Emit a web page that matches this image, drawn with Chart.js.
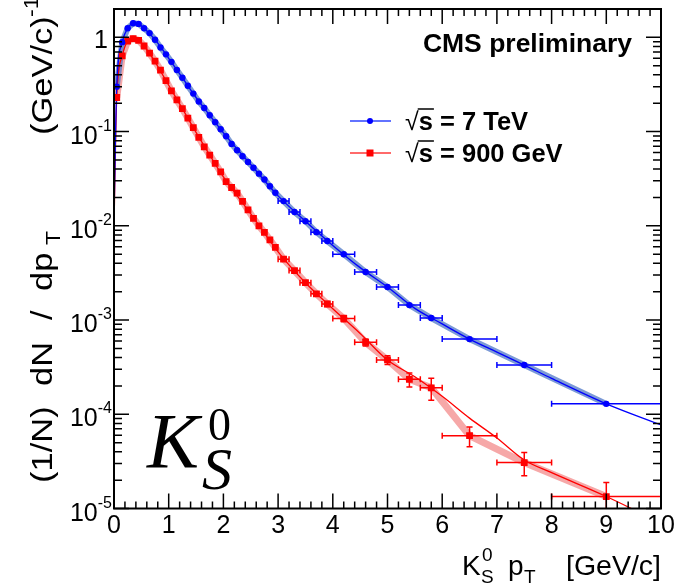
<!DOCTYPE html>
<html>
<head>
<meta charset="utf-8">
<script src="https://cdn.jsdelivr.net/npm/chart.js@4.4.1/dist/chart.umd.min.js"></script>
<style>
  html, body { margin: 0; padding: 0; background: #fff; }
  #wrap { width: 676px; height: 586px; }
</style>
</head>
<body>
<div id="wrap"><canvas id="ptChart"></canvas></div>
<script>
// bin centres and half widths (GeV/c)
const ptBins = [0.05, 0.15, 0.25, 0.35, 0.45, 0.55, 0.65, 0.75, 0.85, 0.95,
                1.05, 1.15, 1.25, 1.35, 1.45, 1.55, 1.65, 1.75, 1.85, 1.95,
                2.05, 2.15, 2.25, 2.35, 2.45, 2.55, 2.65, 2.75, 2.85, 2.95,
                3.1, 3.3, 3.5, 3.7, 3.9, 4.2, 4.6, 5.0, 5.4, 5.8, 6.5, 7.5, 9.0];
const ptHalfWidth = [0.05, 0.05, 0.05, 0.05, 0.05, 0.05, 0.05, 0.05, 0.05, 0.05,
                     0.05, 0.05, 0.05, 0.05, 0.05, 0.05, 0.05, 0.05, 0.05, 0.05,
                     0.05, 0.05, 0.05, 0.05, 0.05, 0.05, 0.05, 0.05, 0.05, 0.05,
                     0.1, 0.1, 0.1, 0.1, 0.1, 0.2, 0.2, 0.2, 0.2, 0.2, 0.5, 0.5, 1.0];

// sqrt(s) = 7 TeV
const yield7TeV = [0.30, 0.89, 1.25, 1.41, 1.39, 1.25, 1.11, 0.945, 0.78, 0.66,
                   0.55, 0.45, 0.373, 0.307, 0.253, 0.209, 0.178, 0.149, 0.126, 0.106,
                   0.0893, 0.074, 0.0635, 0.0548, 0.0475, 0.0413, 0.0358, 0.031, 0.0263, 0.0224,
                   0.0183, 0.0140, 0.0112, 0.00857, 0.00689, 0.0050, 0.00323, 0.00224, 0.00144, 0.00105,
                   0.000628, 0.000333, 0.000129];
// sqrt(s) = 900 GeV
const yield900GeV = [0.23, 0.636, 0.914, 0.97, 0.93, 0.81, 0.68, 0.56, 0.45, 0.347,
                     0.27, 0.217, 0.175, 0.139, 0.110, 0.087, 0.069, 0.0564, 0.046, 0.0373,
                     0.0295, 0.0255, 0.0222, 0.0182, 0.0148, 0.012, 0.0100, 0.0085, 0.0071, 0.0059,
                     0.00443, 0.00335, 0.00249, 0.0019, 0.00148, 0.00104, 0.00058, 0.000377, 0.000235, 0.000191,
                     0.0000593, 0.0000307, 0.0000134];
const err900GeV = [0, 0, 0, 0, 0, 0, 0, 0, 0, 0,
                   0, 0, 0, 0, 0, 0, 0, 0, 0, 0,
                   0, 0, 0, 0, 0, 0, 0, 0, 0, 0,
                   0.0002, 0.00015, 0.00012, 0.0001, 0.00009, 0.00008, 0.00005, 0.00004, 0.00004, 0.00005,
                   0.000014, 0.0000085, 0.0000055];

// fit curves
const fitPt = [0, 0.05, 0.15, 0.25, 0.35, 0.45, 0.55, 0.75, 1.0, 1.25, 1.5, 1.75, 2.0, 2.5,
               3.0, 3.5, 4.0, 4.5, 5.0, 5.5, 6.0, 6.5, 7.0, 7.5, 8.0, 9.0, 10.0];
const fit7TeV = [0.012, 0.30, 0.89, 1.25, 1.41, 1.39, 1.25, 0.945, 0.60, 0.373, 0.23, 0.149, 0.097, 0.0447,
                 0.0208, 0.0112, 0.0062, 0.0036, 0.00224, 0.00133, 0.00091, 0.000628, 0.000457, 0.000333, 0.00024, 0.000129, 0.000077];
const fit900GeV = [0.010, 0.23, 0.636, 0.914, 0.97, 0.93, 0.81, 0.55, 0.31, 0.175, 0.098, 0.0564, 0.033, 0.0134,
                   0.0053, 0.00249, 0.00132, 0.00072, 0.000377, 0.00025, 0.000155, 0.000091, 0.000056, 0.0000327, 0.000024, 0.0000134, 0.000007];

const xTicks = [0, 1, 2, 3, 4, 5, 6, 7, 8, 9, 10];
const yTickExp = [0, -1, -2, -3, -4, -5];

const BLUE = 'rgb(0,0,255)';
const RED = 'rgb(255,0,0)';
const SANS = '"Liberation Sans", Arial, sans-serif';
const SERIF = '"Liberation Serif", "Times New Roman", serif';

function pts(xs, ys) { return xs.map((x, i) => ({ x: x, y: ys[i] })); }

// draw a run of text pieces: [text, size, dy, weight]
function drawRun(ctx, parts, x, y, align) {
    let w = 0;
    parts.forEach(p => { ctx.font = (p[3] || '') + ' ' + p[1] + 'px ' + SANS; w += ctx.measureText(p[0]).width; });
    let cx = align === 'right' ? x - w : (align === 'center' ? x - w / 2 : x);
    ctx.textAlign = 'left';
    ctx.textBaseline = 'alphabetic';
    parts.forEach(p => {
        ctx.font = (p[3] || '') + ' ' + p[1] + 'px ' + SANS;
        ctx.fillText(p[0], cx, y + (p[2] || 0));
        cx += ctx.measureText(p[0]).width;
    });
}

// pieces placed at fixed offsets: [text, size, offset, dy]; stretch widens glyphs along the run
function drawPlaced(ctx, pieces, y, stretch) {
    ctx.textAlign = 'left';
    ctx.textBaseline = 'alphabetic';
    pieces.forEach(p => {
        ctx.save();
        ctx.translate(p[2], y + (p[3] || 0));
        ctx.scale(stretch || 1, 1);
        ctx.font = p[1] + 'px ' + SANS;
        ctx.fillText(p[0], 0, 0);
        ctx.restore();
    });
}

const rootFrame = {
    id: 'rootFrame',
    afterDatasetsDraw(chart) {
        const { ctx, chartArea: a, scales: { x, y } } = chart;
        // error bars
        ctx.save();
        ctx.beginPath();
        ctx.rect(a.left, a.top, a.right - a.left, a.bottom - a.top);
        ctx.clip();
        ctx.lineWidth = 1.5;
        const series = [[yield7TeV, null, BLUE], [yield900GeV, err900GeV, RED]];
        series.forEach(s => {
            ctx.strokeStyle = s[2];
            ptBins.forEach((pt, i) => {
                const py = y.getPixelForValue(s[0][i]);
                const x1 = x.getPixelForValue(pt - ptHalfWidth[i]);
                const x2 = x.getPixelForValue(pt + ptHalfWidth[i]);
                ctx.beginPath();
                ctx.moveTo(x1, py); ctx.lineTo(x2, py);
                if (ptHalfWidth[i] > 0.05) {
                    ctx.moveTo(x1, py - 3); ctx.lineTo(x1, py + 3);
                    ctx.moveTo(x2, py - 3); ctx.lineTo(x2, py + 3);
                }
                ctx.stroke();
                if (s[1] && s[1][i] > 0) {
                    const px = x.getPixelForValue(pt);
                    const yt = y.getPixelForValue(s[0][i] + s[1][i]);
                    const lo = s[0][i] - s[1][i];
                    const yb = lo > 0 ? y.getPixelForValue(lo) : a.bottom + 5;
                    ctx.beginPath();
                    ctx.moveTo(px, yt); ctx.lineTo(px, yb);
                    ctx.moveTo(px - 3, yt); ctx.lineTo(px + 3, yt);
                    ctx.moveTo(px - 3, yb); ctx.lineTo(px + 3, yb);
                    ctx.stroke();
                }
            });
        });
        ctx.restore();
    },
    afterDraw(chart) {
        const { ctx, chartArea: a, scales: { x, y } } = chart;
        ctx.save();
        ctx.strokeStyle = '#000';
        ctx.fillStyle = '#000';
        // frame
        ctx.lineWidth = 2;
        ctx.strokeRect(a.left, a.top, a.right - a.left, a.bottom - a.top);

        // x ticks, bottom and top
        ctx.lineWidth = 1.5;
        for (let v = 0; v <= 10.001; v += 0.2) {
            const px = x.getPixelForValue(v);
            const major = Math.abs(v - Math.round(v)) < 0.01;
            const len = major ? 15 : 7;
            ctx.beginPath();
            ctx.moveTo(px, a.bottom); ctx.lineTo(px, a.bottom - len);
            ctx.moveTo(px, a.top); ctx.lineTo(px, a.top + len);
            ctx.stroke();
        }
        // y ticks, left and right
        yTickExp.forEach(e => {
            for (let m = 1; m <= 9; m++) {
                const v = m * Math.pow(10, e);
                if (v > y.max) break;
                const py = y.getPixelForValue(v);
                const len = m === 1 ? 15 : 8;
                ctx.beginPath();
                ctx.moveTo(a.left, py); ctx.lineTo(a.left + len, py);
                ctx.moveTo(a.right, py); ctx.lineTo(a.right - len, py);
                ctx.stroke();
            }
        });

        // tick labels
        ctx.textAlign = 'center';
        ctx.textBaseline = 'alphabetic';
        ctx.font = '25px ' + SANS;
        xTicks.forEach(v => ctx.fillText(String(v), x.getPixelForValue(v), a.bottom + 24));
        yTickExp.forEach(e => {
            const py = y.getPixelForValue(Math.pow(10, e));
            if (e === 0) drawRun(ctx, [['1', 25]], a.left - 6, py + 11, 'right');
            else drawRun(ctx, [['10', 25], [String(e), 16, -13]], a.left - 2, py + 12, 'right');
        });

        // x axis title
        drawPlaced(ctx, [['K', 28, 462], ['S', 19, 481, 8], ['0', 19, 482, -14],
                         ['p', 28, 508], ['T', 19, 524, 8]], a.bottom + 66);
        ctx.font = '28.5px ' + SANS;
        ctx.textAlign = 'right';
        ctx.fillText('[GeV/c]', a.right, a.bottom + 66);

        // y axis title, rotated; offsets measured upward from the bottom end
        ctx.save();
        ctx.translate(52, 483);
        ctx.rotate(-Math.PI / 2);
        drawPlaced(ctx, [['(1/N)', 30, 0], ['dN', 30, 97], ['/', 30, 163], ['dp', 30, 192],
                         ['T', 20, 238, 8], ['(GeV/c)', 30, 348], ['-1', 20, 466, -14]], 0, 1.15);
        ctx.restore();

        // CMS label
        ctx.font = 'bold 26.5px ' + SANS;
        ctx.textAlign = 'right';
        ctx.fillText('CMS preliminary', 632, 52);

        // legend
        const leg = [[BLUE, 'rgba(70,90,255,0.85)', 'circle', '7 TeV', 121],
                     [RED, 'rgba(255,90,90,0.9)', 'rect', '900 GeV', 153]];
        leg.forEach(l => {
            ctx.strokeStyle = l[1];
            ctx.lineWidth = 2;
            ctx.beginPath(); ctx.moveTo(350, l[4]); ctx.lineTo(391, l[4]); ctx.stroke();
            ctx.fillStyle = l[0];
            ctx.beginPath();
            if (l[2] === 'circle') ctx.arc(370, l[4], 3, 0, 2 * Math.PI);
            else ctx.rect(366.5, l[4] - 3.5, 7, 7);
            ctx.fill();
            ctx.fillStyle = '#000';
            ctx.textAlign = 'left';
            ctx.font = '25px ' + SANS;
            ctx.fillText('\u221A', 405, l[4] + 9);
            const sx = 405 + ctx.measureText('\u221A').width;
            ctx.font = 'bold 25.5px ' + SANS;
            ctx.fillText('s', sx, l[4] + 9);
            const sw = ctx.measureText('s').width;
            ctx.lineWidth = 1.5;
            ctx.strokeStyle = '#000';
            ctx.beginPath(); ctx.moveTo(sx - 1, l[4] - 12); ctx.lineTo(sx + sw + 1, l[4] - 12); ctx.stroke();
            ctx.fillText(' = ' + l[3], sx + sw, l[4] + 9);
        });

        // particle label
        ctx.fillStyle = '#000';
        ctx.textAlign = 'left';
        ctx.font = 'italic 78px ' + SERIF;
        ctx.fillText('K', 147, 467);
        ctx.font = '46px ' + SERIF;
        ctx.fillText('0', 208, 440);
        ctx.font = 'italic 60px ' + SERIF;
        ctx.fillText('S', 202, 489);
        ctx.restore();
    }
};

const ctx = document.getElementById('ptChart').getContext('2d');

new Chart(ctx, {
    type: 'line',
    data: {
        datasets: [
            { data: pts(ptBins, yield7TeV), borderColor: BLUE, backgroundColor: BLUE, showLine: false,
              pointStyle: 'circle', pointRadius: 3.2, pointBorderWidth: 0, order: 0 },
            { data: pts(ptBins, yield900GeV), borderColor: RED, backgroundColor: RED, showLine: false,
              pointStyle: 'rect', pointRadius: 4.8, pointBorderWidth: 0, order: 0 },
            { data: pts(fitPt, fit7TeV), borderColor: BLUE, borderWidth: 1.3, pointRadius: 0,
              cubicInterpolationMode: 'monotone', order: 1 },
            { data: pts(fitPt, fit900GeV), borderColor: RED, borderWidth: 1.3, pointRadius: 0,
              cubicInterpolationMode: 'monotone', order: 1 },
            // systematic bands
            { data: pts(ptBins, yield7TeV), borderColor: 'rgba(80,120,200,0.75)', borderWidth: 6,
              pointRadius: 0, order: 2 },
            { data: pts(ptBins, yield900GeV), borderColor: 'rgba(240,110,110,0.6)', borderWidth: 7,
              pointRadius: 0, order: 2 }
        ]
    },
    options: {
        responsive: true,
        maintainAspectRatio: false,
        animation: false,
        layout: { padding: { left: 114, right: 15, top: 9, bottom: 77.5 } },
        plugins: {
            legend: { display: false },
            tooltip: { enabled: false }
        },
        scales: {
            x: { type: 'linear', min: 0, max: 10, display: false },
            y: { type: 'logarithmic', min: 1e-5, max: 2.0, display: false }
        }
    },
    plugins: [rootFrame]
});
</script>
</body>
</html>
